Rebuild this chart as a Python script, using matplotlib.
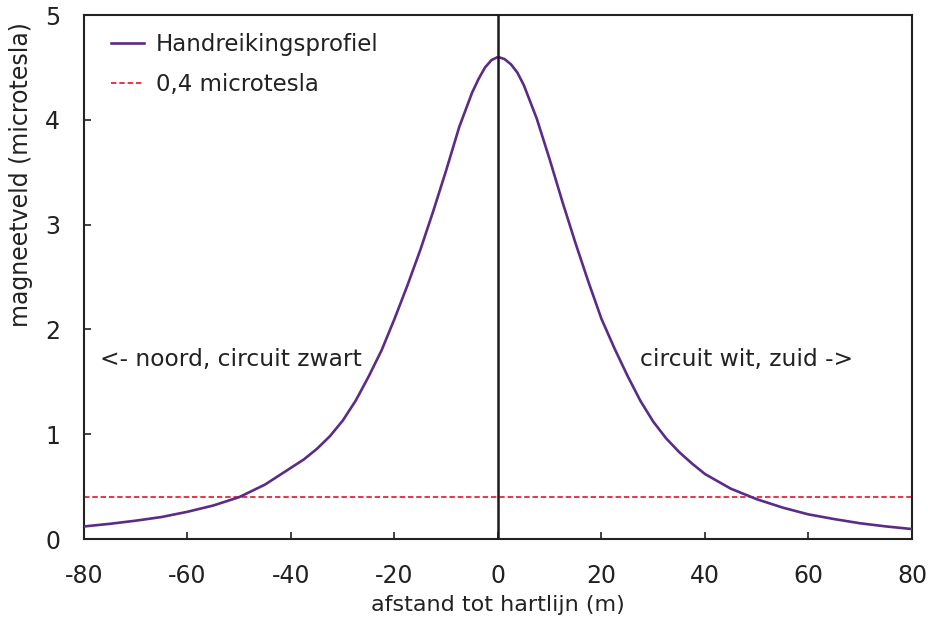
import matplotlib
matplotlib.use("Agg")
import matplotlib.pyplot as plt

# Data
afstand = [-80, -75, -70, -65, -60, -55, -50, -47.5, -45, -42.5, -40, -37.5, -35, -32.5,
           -30, -27.5, -25, -22.5, -20, -17.5, -15, -12.5, -10, -7.5, -5, -3.75, -2.5,
           -1.25, 0, 1.25, 2.5, 3.75, 5, 7.5, 10, 12.5, 15, 17.5, 20, 22.5, 25, 27.5, 30,
           32.5, 35, 37.5, 40, 42.5, 45, 47.5, 50, 55, 60, 65, 70, 75, 80]
veld = [0.12, 0.145, 0.175, 0.21, 0.26, 0.32, 0.40, 0.46, 0.52, 0.60, 0.68, 0.76, 0.86, 0.98,
        1.13, 1.32, 1.55, 1.80, 2.10, 2.42, 2.76, 3.13, 3.52, 3.93, 4.26, 4.39, 4.50,
        4.57, 4.60, 4.58, 4.53, 4.45, 4.33, 4.01, 3.62, 3.21, 2.82, 2.45, 2.10, 1.82, 1.56, 1.32, 1.12,
        0.96, 0.83, 0.72, 0.62, 0.55, 0.48, 0.43, 0.38, 0.30, 0.235, 0.19, 0.15, 0.12, 0.095]
grens_x = [-80, 80]
grens_y = [0.4, 0.4]

xticks = [-80, -60, -40, -20, 0, 20, 40, 60, 80]
yticks = [0, 1, 2, 3, 4, 5]

plt.rcParams['font.family'] = ['DejaVu Sans']
plt.rcParams['axes.unicode_minus'] = False

fig = plt.figure(figsize=(9.29, 6.18), dpi=100)
ax = fig.add_axes([0.0904, 0.1278, 0.8913, 0.8479])

ax.plot(afstand, veld, color='#5b2c86', lw=1.9, label='Handreikingsprofiel', zorder=3)
ax.plot(grens_x, grens_y, color='#e8253a', lw=1.3, ls=(0, (3, 1.6)), label='0,4 microtesla', zorder=2)
ax.axvline(0, color='#1a1a1a', lw=1.8, zorder=4)

ax.set_xlim(-80, 80)
ax.set_ylim(0, 5)
ax.set_xticks(xticks)
ax.set_yticks(yticks)
ax.tick_params(axis='both', direction='in', length=5, width=1.2, labelsize=17,
               labelcolor='#222222', color='#222222')
ax.tick_params(axis='x', pad=18)
ax.tick_params(axis='y', pad=17)
for s in ax.spines.values():
    s.set_color('#222222')
    s.set_linewidth(1.5)

ax.set_xlabel('afstand tot hartlijn (m)', fontsize=16, color='#222222')
ax.set_ylabel('magneetveld (microtesla)', fontsize=17, color='#222222')
ax.xaxis.set_label_coords(0.5, -0.107)
ax.yaxis.set_label_coords(-0.062, 0.695)

ax.text(-77, 1.71, '<- noord, circuit zwart', fontsize=16.8, color='#222222',
        ha='left', va='center')
ax.text(68.6, 1.71, 'circuit wit, zuid ->', fontsize=16.8, color='#222222',
        ha='right', va='center')

leg = ax.legend(loc='upper left', frameon=False, fontsize=16.5, handlelength=1.45,
                handletextpad=0.5, labelspacing=0.75, bbox_to_anchor=(0.008, 1.005))
for t in leg.get_texts():
    t.set_color('#222222')

fig.savefig('out.png', dpi=100, facecolor='white')
